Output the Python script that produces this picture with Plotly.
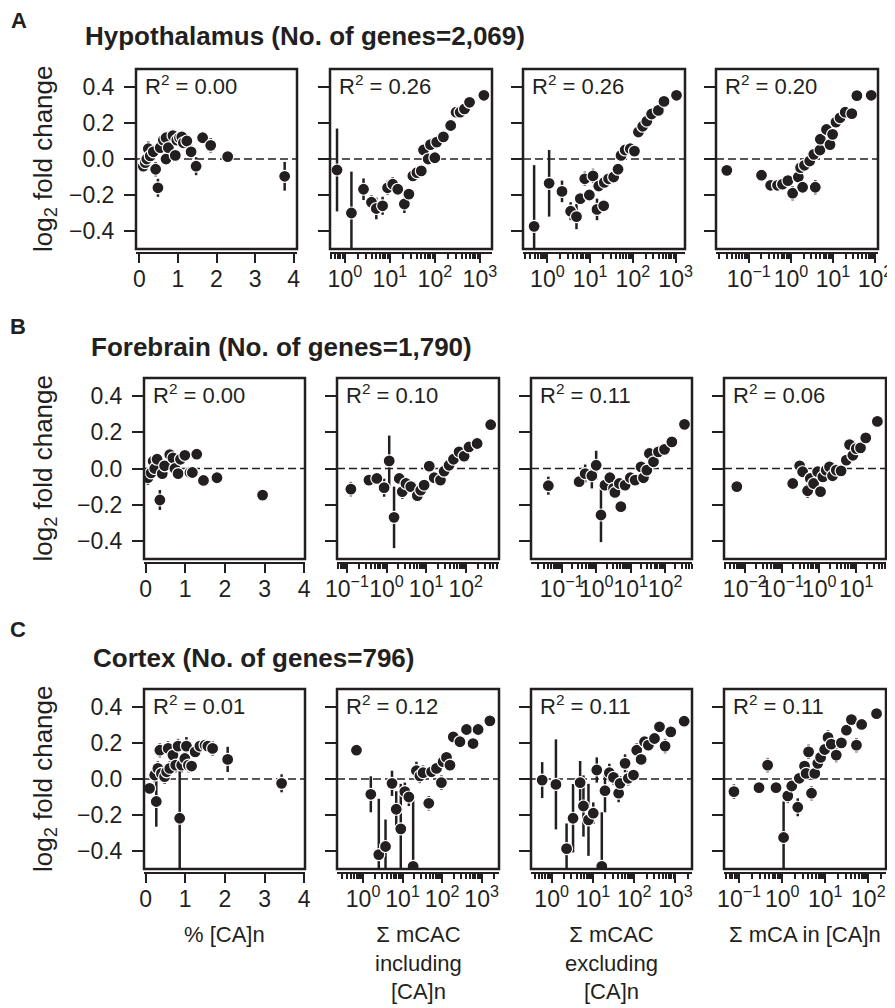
import plotly.graph_objects as go

# ---- data ----
# Hypothalamus
hyp_pct_x = [0.10, 0.15, 0.19, 0.23, 0.28, 0.36, 0.42, 0.48, 0.54, 0.62, 0.69, 0.69, 0.75, 0.87, 0.93, 0.97, 1.04, 1.10, 1.14, 1.23, 1.34, 1.47, 1.64, 1.85, 2.29, 3.77]
hyp_pct_y = [-0.04, -0.02, 0.00, 0.057, 0.017, 0.04, -0.057, -0.16, 0.063, 0.105, 0.118, 0.00, 0.063, 0.13, 0.02, 0.105, 0.118, 0.123, 0.09, 0.10, 0.04, -0.04, 0.118, 0.076, 0.013, -0.096]
hyp_pct_e = [0.03, 0.03, 0.03, 0.04, 0.03, 0.03, 0.04, 0.05, 0.03, 0.03, 0.03, 0.03, 0.03, 0.03, 0.03, 0.03, 0.03, 0.03, 0.03, 0.03, 0.04, 0.05, 0.03, 0.04, 0.03, 0.08]

hyp_inc_x = [0.67, 1.4, 2.6, 3.9, 5.0, 6.9, 8.9, 11.6, 15, 21, 26.5, 32.5, 40, 50, 56, 71, 80, 100, 110, 155, 225, 296, 365, 455, 590, 1230]
hyp_inc_y = [-0.061, -0.30, -0.168, -0.24, -0.275, -0.26, -0.16, -0.14, -0.168, -0.25, -0.195, -0.094, -0.076, -0.066, 0.05, 0.00, 0.08, 0.007, 0.094, 0.123, 0.186, 0.26, 0.26, 0.278, 0.315, 0.354]
hyp_inc_e = [0.23, 0.23, 0.06, 0.04, 0.06, 0.05, 0.04, 0.04, 0.03, 0.05, 0.03, 0.03, 0.03, 0.02, 0.02, 0.02, 0.02, 0.02, 0.02, 0.02, 0.02, 0.02, 0.02, 0.02, 0.02, 0.02]

hyp_exc_x = [0.49, 1.1, 2.2, 3.5, 4.8, 5.9, 7.5, 9.6, 11.7, 14.5, 15.9, 20.8, 21.5, 27, 35.5, 45, 53, 66, 87, 109, 135, 170, 212, 275, 395, 535, 1050]
hyp_exc_y = [-0.374, -0.135, -0.18, -0.29, -0.32, -0.22, -0.11, -0.20, -0.094, -0.28, -0.15, -0.26, -0.13, -0.11, -0.10, -0.057, 0.02, 0.05, 0.057, 0.044, 0.15, 0.182, 0.21, 0.25, 0.27, 0.32, 0.354]
hyp_exc_e = [0.34, 0.185, 0.06, 0.05, 0.07, 0.03, 0.04, 0.03, 0.04, 0.06, 0.03, 0.03, 0.03, 0.03, 0.03, 0.02, 0.02, 0.02, 0.02, 0.02, 0.02, 0.02, 0.02, 0.02, 0.02, 0.02, 0.02]

hyp_mca_x = [0.030, 0.20, 0.33, 0.48, 0.63, 0.85, 1.1, 1.5, 1.7, 1.9, 2.1, 2.8, 3.5, 3.8, 4.9, 5.0, 7.0, 8.5, 9.8, 11.8, 14.7, 19.5, 28, 37, 81]
hyp_mca_y = [-0.063, -0.09, -0.146, -0.146, -0.14, -0.12, -0.19, -0.10, -0.048, -0.157, -0.035, -0.011, 0.026, -0.157, 0.05, 0.11, 0.164, 0.08, 0.137, 0.205, 0.229, 0.26, 0.252, 0.352, 0.354]
hyp_mca_e = [0.02, 0.02, 0.03, 0.03, 0.03, 0.03, 0.04, 0.03, 0.02, 0.03, 0.02, 0.02, 0.02, 0.04, 0.02, 0.02, 0.02, 0.02, 0.02, 0.02, 0.02, 0.02, 0.02, 0.02, 0.02]

# Forebrain
fore_pct_x = [0.06, 0.14, 0.19, 0.23, 0.29, 0.36, 0.42, 0.48, 0.61, 0.69, 0.74, 0.82, 0.88, 0.99, 1.12, 1.18, 1.29, 1.46, 1.80, 2.95]
fore_pct_y = [-0.051, -0.024, 0.04, 0.0, 0.051, -0.174, -0.028, 0.015, 0.077, 0.059, 0.0, -0.028, 0.051, 0.073, -0.022, -0.022, 0.079, -0.066, -0.051, -0.147]
fore_pct_e = [0.04, 0.03, 0.03, 0.03, 0.03, 0.055, 0.03, 0.03, 0.02, 0.02, 0.02, 0.02, 0.02, 0.02, 0.02, 0.02, 0.02, 0.02, 0.02, 0.02]

fore_inc_x = [0.126, 0.36, 0.57, 0.87, 1.17, 1.55, 2.1, 2.5, 3.1, 4.1, 6.0, 7.3, 8.9, 12, 16, 23, 28.4, 38, 49, 68, 91, 121, 194, 427]
fore_inc_y = [-0.114, -0.064, -0.055, -0.106, 0.042, -0.27, -0.055, -0.128, -0.083, -0.10, -0.15, -0.12, -0.092, 0.013, -0.051, -0.064, -0.015, 0.018, 0.051, 0.092, 0.068, 0.119, 0.138, 0.242]
fore_inc_e = [0.04, 0.03, 0.03, 0.05, 0.14, 0.17, 0.03, 0.04, 0.03, 0.02, 0.02, 0.02, 0.02, 0.02, 0.02, 0.02, 0.02, 0.02, 0.02, 0.02, 0.02, 0.02, 0.02, 0.02]

fore_exc_x = [0.041, 0.32, 0.48, 0.75, 1.0, 1.38, 1.8, 2.5, 3.2, 3.5, 4.7, 5.2, 6.9, 9.8, 13.5, 20, 23.5, 29.5, 35, 46, 64, 96, 157, 365]
fore_exc_y = [-0.095, -0.073, -0.028, -0.04, 0.018, -0.257, -0.092, -0.051, -0.11, -0.132, -0.083, -0.211, -0.092, -0.051, -0.064, 0.009, -0.051, -0.009, 0.083, 0.037, 0.092, 0.106, 0.147, 0.244]
fore_exc_e = [0.05, 0.03, 0.05, 0.07, 0.08, 0.15, 0.03, 0.03, 0.03, 0.03, 0.02, 0.03, 0.02, 0.02, 0.02, 0.02, 0.02, 0.02, 0.02, 0.02, 0.02, 0.02, 0.02, 0.02]

fore_mca_x = [0.0061, 0.195, 0.30, 0.36, 0.49, 0.58, 0.71, 0.91, 1.09, 1.26, 1.55, 1.9, 2.3, 2.9, 3.9, 5.4, 6.6, 8.1, 10, 13, 18, 37]
fore_mca_y = [-0.10, -0.083, 0.015, -0.018, -0.123, -0.055, -0.083, -0.018, -0.128, -0.046, -0.009, 0.009, -0.04, -0.009, -0.013, 0.046, 0.132, 0.073, 0.11, 0.114, 0.169, 0.26]
fore_mca_e = [0.02, 0.02, 0.03, 0.02, 0.04, 0.02, 0.02, 0.02, 0.02, 0.02, 0.02, 0.02, 0.02, 0.02, 0.02, 0.02, 0.02, 0.02, 0.02, 0.02, 0.02, 0.02]

# Cortex
ctx_pct_x = [0.10, 0.23, 0.27, 0.31, 0.36, 0.40, 0.48, 0.53, 0.57, 0.61, 0.69, 0.76, 0.82, 0.86, 0.91, 0.99, 1.03, 1.08, 1.16, 1.25, 1.37, 1.50, 1.57, 1.69, 2.07, 3.43]
ctx_pct_y = [-0.052, 0.022, -0.125, 0.059, 0.16, 0.031, 0.013, 0.04, 0.17, 0.059, 0.133, 0.077, 0.183, -0.218, 0.077, 0.114, 0.183, 0.077, 0.072, 0.151, 0.183, 0.188, 0.183, 0.17, 0.109, -0.024]
ctx_pct_e = [0.03, 0.04, 0.14, 0.04, 0.04, 0.04, 0.04, 0.04, 0.04, 0.04, 0.04, 0.04, 0.04, 0.29, 0.04, 0.04, 0.05, 0.04, 0.03, 0.03, 0.03, 0.03, 0.03, 0.04, 0.07, 0.05]

ctx_inc_x = [0.68, 1.57, 2.5, 3.7, 5.4, 6.9, 9.0, 11.4, 14.4, 18.5, 22.4, 27.4, 33, 46, 54, 72, 96, 106, 129, 158, 192, 283, 415, 606, 815, 1620]
ctx_inc_y = [0.16, -0.085, -0.42, -0.375, -0.024, -0.168, -0.277, -0.07, -0.10, -0.485, 0.046, 0.017, 0.035, -0.135, 0.04, 0.059, -0.02, 0.096, 0.12, 0.077, 0.234, 0.207, 0.275, 0.197, 0.275, 0.323]
ctx_inc_e = [0.01, 0.10, 0.31, 0.15, 0.07, 0.10, 0.25, 0.05, 0.05, 0.40, 0.05, 0.04, 0.04, 0.04, 0.03, 0.03, 0.04, 0.03, 0.03, 0.03, 0.02, 0.02, 0.02, 0.03, 0.02, 0.02]

ctx_exc_x = [0.59, 1.27, 2.3, 3.3, 4.9, 5.9, 7.8, 10.2, 12.4, 16.4, 19.6, 25, 31.5, 42, 45.5, 60, 72, 96, 115, 147, 178, 220, 310, 410, 560, 770, 1620]
ctx_exc_y = [-0.006, -0.03, -0.387, -0.218, -0.02, -0.15, -0.227, -0.19, 0.05, -0.485, -0.065, 0.035, 0.009, -0.079, -0.024, 0.087, 0.004, 0.022, 0.16, 0.109, 0.207, 0.188, 0.225, 0.29, 0.183, 0.262, 0.321]
ctx_exc_e = [0.10, 0.25, 0.14, 0.19, 0.12, 0.17, 0.20, 0.06, 0.07, 0.30, 0.12, 0.05, 0.04, 0.05, 0.04, 0.05, 0.04, 0.03, 0.04, 0.03, 0.03, 0.03, 0.02, 0.02, 0.04, 0.02, 0.02]

ctx_mca_x = [0.076, 0.29, 0.46, 0.72, 1.08, 1.35, 1.67, 2.3, 2.5, 3.3, 3.6, 4.1, 4.8, 5.7, 6.7, 7.8, 9.7, 11.6, 13.8, 18, 23.7, 31, 40.5, 53, 70, 155]
ctx_mca_y = [-0.07, -0.048, 0.077, -0.048, -0.325, -0.094, -0.039, -0.157, 0.004, 0.072, 0.031, 0.151, -0.079, 0.031, 0.087, 0.12, 0.164, 0.231, 0.194, 0.133, 0.201, 0.271, 0.33, 0.188, 0.303, 0.363]
ctx_mca_e = [0.04, 0.03, 0.04, 0.03, 0.20, 0.04, 0.03, 0.05, 0.03, 0.03, 0.03, 0.04, 0.04, 0.03, 0.03, 0.03, 0.03, 0.04, 0.03, 0.04, 0.03, 0.02, 0.02, 0.04, 0.02, 0.02]

r2_labels = [["0.00", "0.26", "0.26", "0.20"],
             ["0.00", "0.10", "0.11", "0.06"],
             ["0.01", "0.12", "0.11", "0.11"]]
row_titles = ["Hypothalamus (No. of genes=2,069)",
              "Forebrain (No. of genes=1,790)",
              "Cortex (No. of genes=796)"]
row_letters = ["A", "B", "C"]
x_titles = ["% [CA]n", "Σ mCAC<br>including<br>[CA]n", "Σ mCAC<br>excluding<br>[CA]n", "Σ mCA in [CA]n"]
y_tickvals = [-0.4, -0.2, 0.0, 0.2, 0.4]
y_ticktext = ["\u22120.4", "\u22120.2", "0.0", "0.2", "0.4"]

# ---- layout geometry (page pixels; the page body adds an 8px margin) ----
PAGE_OFF = 8
W, H = 895 - PAGE_OFF, 1008 - PAGE_OFF
INK = "#231f20"
FONT = "Liberation Sans, Arial, Helvetica, sans-serif"


def fx(px):
    return (px - PAGE_OFF) / W


def fy(py):
    return 1 - (py - PAGE_OFF) / H


row_box = [(69, 249), (378, 559), (689, 869)]
col_box = [[(136, 297), (330, 492), (523, 685), (716, 878)],
           [(144, 305), (337, 499), (531, 692), (724, 886)],
           [(144, 305), (337, 499), (531, 692), (724, 886)]]
title_pos = [(83, 36), (89, 347), (91, 658)]
letter_pos = [(19, 20), (18, 327), (18, 629)]

# per panel: data, axis type, range, decades with labels
panels = [
    [(hyp_pct_x, hyp_pct_y, hyp_pct_e, "linear", [-0.09, 4.09], None),
     (hyp_inc_x, hyp_inc_y, hyp_inc_e, "log", [-0.33, 3.27], [0, 1, 2, 3]),
     (hyp_exc_x, hyp_exc_y, hyp_exc_e, "log", [-0.57, 3.22], [0, 1, 2, 3]),
     (hyp_mca_x, hyp_mca_y, hyp_mca_e, "log", [-1.78, 2.07], [-1, 0, 1, 2])],
    [(fore_pct_x, fore_pct_y, fore_pct_e, "linear", [-0.04, 4.02], None),
     (fore_inc_x, fore_inc_y, fore_inc_e, "log", [-1.25, 2.84], [-1, 0, 1, 2]),
     (fore_exc_x, fore_exc_y, fore_exc_e, "log", [-1.89, 2.78], [-1, 0, 1, 2]),
     (fore_mca_x, fore_mca_y, fore_mca_e, "log", [-2.56, 1.80], [-2, -1, 0, 1])],
    [(ctx_pct_x, ctx_pct_y, ctx_pct_e, "linear", [-0.04, 4.02], None),
     (ctx_inc_x, ctx_inc_y, ctx_inc_e, "log", [-0.66, 3.44], [0, 1, 2, 3]),
     (ctx_exc_x, ctx_exc_y, ctx_exc_e, "log", [-0.50, 3.40], [0, 1, 2, 3]),
     (ctx_mca_x, ctx_mca_y, ctx_mca_e, "log", [-1.35, 2.41], [-1, 0, 1, 2])],
]

minor_vals = [m * 10.0 ** d for d in range(-4, 5) for m in range(2, 10)]


def sup_label(d):
    return "10<sup>" + str(d).replace("-", "\u2212") + "</sup>"


fig = go.Figure()
layout = {}
shapes = []
annotations = []

n = 0
for r in range(3):
    y0, y1 = row_box[r]
    for c in range(4):
        n += 1
        xs, ys, es, xtype, xrange, decades = panels[r][c]
        x0, x1 = col_box[r][c]
        xa = "x" if n == 1 else f"x{n}"
        ya = "y" if n == 1 else f"y{n}"

        fig.add_trace(go.Scatter(
            x=xs, y=ys, mode="markers", xaxis=xa, yaxis=ya,
            marker=dict(size=12, color=INK, line=dict(color="white", width=1.2)),
            error_y=dict(type="data", array=es, width=0, thickness=2.5, color=INK),
            showlegend=False, hoverinfo="skip",
        ))

        xaxis = dict(
            domain=[fx(x0), fx(x1)], anchor="free", position=fy(y1 + 4),
            type=xtype, range=xrange, showgrid=False, zeroline=False, automargin=False,
            showline=True, linewidth=2, linecolor=INK,
            ticks="outside", ticklen=9, tickwidth=2, tickcolor=INK, ticklabelstandoff=-4,
            tickangle=0, tickfont=dict(size=23, color=INK, family=FONT),
        )
        if xtype == "linear":
            xaxis.update(tickvals=[0, 1, 2, 3, 4], ticktext=["0", "1", "2", "3", "4"])
        else:
            xaxis.update(tickvals=[10.0 ** d for d in decades],
                         ticktext=[sup_label(d) for d in decades],
                         minor=dict(tickvals=minor_vals, ticks="outside", ticklen=5,
                                    tickwidth=2, tickcolor=INK, showgrid=False))
        yaxis = dict(
            domain=[fy(y1), fy(y0)], anchor=xa, range=[-0.5, 0.5],
            showgrid=False, zeroline=False, showline=False, automargin=False,
            ticks="outside", ticklen=11, tickwidth=2, tickcolor=INK,
            tickvals=y_tickvals, ticktext=y_ticktext, showticklabels=(c == 0),
            ticklabelstandoff=5, tickfont=dict(size=23, color=INK, family=FONT),
        )
        layout["xaxis" if n == 1 else f"xaxis{n}"] = xaxis
        layout["yaxis" if n == 1 else f"yaxis{n}"] = yaxis

        # dashed zero line
        shapes.append(dict(type="line", xref=f"{xa} domain", yref=ya, x0=0, x1=1, y0=0, y1=0,
                           line=dict(color=INK, width=1.6, dash="8px,4px"), layer="below"))
        # box
        shapes.append(dict(type="rect", xref=f"{xa} domain", yref=f"{ya} domain",
                           x0=0, x1=1, y0=0, y1=1, line=dict(color=INK, width=2.5), layer="above"))
        annotations.append(dict(xref=f"{xa} domain", yref=f"{ya} domain", x=0.045, y=1.0,
                                xanchor="left", yanchor="top", yshift=0, showarrow=False,
                                text="R<sup>2</sup> = " + r2_labels[r][c],
                                font=dict(size=22, color=INK, family=FONT)))
        if r == 2:
            annotations.append(dict(xref="paper", yref="paper", x=fx((x0 + x1) / 2), y=fy(920),
                                    xanchor="center", yanchor="top", showarrow=False,
                                    text=x_titles[c], align="center",
                                    font=dict(size=22, color=INK, family=FONT)))

    # row title, letter, y-axis title
    tx, ty = title_pos[r]
    annotations.append(dict(xref="paper", yref="paper", x=fx(tx), y=fy(ty),
                            xanchor="left", yanchor="middle", showarrow=False,
                            text="<b>" + row_titles[r] + "</b>",
                            font=dict(size=26, color=INK, family=FONT)))
    lx, ly = letter_pos[r]
    annotations.append(dict(xref="paper", yref="paper", x=fx(lx), y=fy(ly),
                            xanchor="center", yanchor="middle", showarrow=False,
                            text="<b>" + row_letters[r] + "</b>",
                            font=dict(size=22, color=INK, family=FONT)))
    annotations.append(dict(xref="paper", yref="paper", x=fx(44), y=fy((y0 + y1) / 2),
                            xanchor="center", yanchor="middle", showarrow=False, textangle=-90,
                            text="log<sub>2</sub> fold change",
                            font=dict(size=26, color=INK, family=FONT)))

fig.update_layout(
    template="none",
    width=W, height=H, margin=dict(l=0, r=0, t=0, b=0, autoexpand=False),
    paper_bgcolor="white", plot_bgcolor="white",
    font=dict(family=FONT, color=INK),
    shapes=shapes, annotations=annotations, showlegend=False,
    **layout,
)

fig.write_html("out.html")
